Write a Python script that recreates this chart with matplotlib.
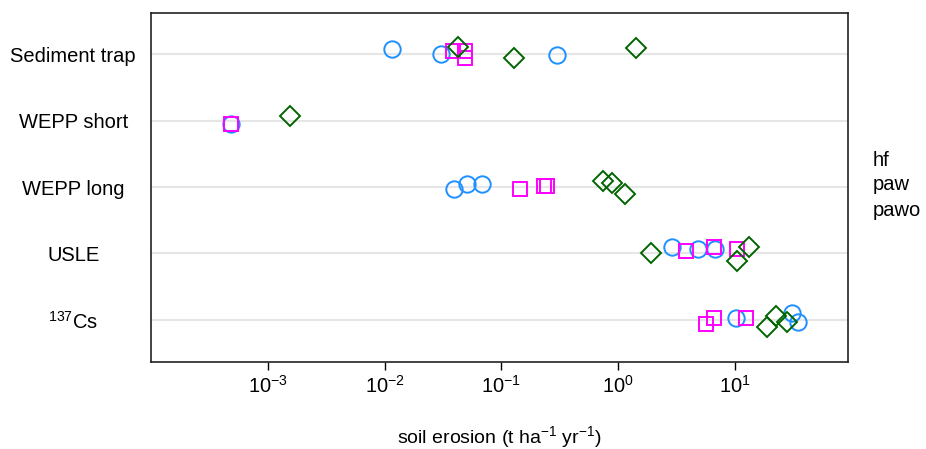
import matplotlib
matplotlib.use("Agg")
import matplotlib.pyplot as plt
import numpy as np

plt.rcParams['font.family'] = ['Liberation Sans', 'DejaVu Sans']
plt.rcParams['mathtext.fontset'] = 'custom'
plt.rcParams['mathtext.rm'] = 'Liberation Sans'
plt.rcParams['mathtext.it'] = 'Liberation Sans:italic'
plt.rcParams['mathtext.bf'] = 'Liberation Sans:bold'

# methods, top to bottom
categories = ["Sediment trap", "WEPP short", "WEPP long", "USLE", "$^{137}$Cs"]

# hf (circles)
hf_cat = [0, 0, 0, 1, 2, 2, 2, 3, 3, 3, 4, 4, 4]
hf_val = [0.0116, 0.0303, 0.299, 4.8e-4, 0.0393, 0.0507, 0.0682, 2.90, 4.84, 6.77, 10.2, 30.9, 34.8]
hf_jit = [0.075, 0.0, -0.015, -0.05, -0.03, 0.045, 0.045, 0.1, 0.07, 0.07, 0.03, 0.1, -0.03]

# paw (squares)
paw_cat = [0, 0, 0, 1, 2, 2, 2, 3, 3, 3, 4, 4, 4]
paw_val = [0.0385, 0.0488, 0.0488, 4.8e-4, 0.144, 0.232, 0.246, 3.82, 6.64, 10.4, 5.66, 6.64, 12.5]
paw_jit = [0.045, 0.045, -0.06, -0.05, -0.03, 0.015, 0.015, 0.04, 0.1, 0.07, -0.06, 0.03, 0.03]

# pawo (diamonds)
pawo_cat = [0, 0, 0, 1, 2, 2, 2, 3, 3, 3, 4, 4, 4]
pawo_val = [0.0425, 0.128, 1.42, 1.55e-3, 0.743, 0.887, 1.146, 1.91, 10.4, 13.2, 18.9, 22.6, 28.0]
pawo_jit = [0.105, -0.06, 0.09, 0.07, 0.09, 0.06, -0.1, 0.0, -0.11, 0.1, -0.1, 0.06, -0.03]

legend_labels = ["hf", "paw", "pawo"]
xticks = [1e-3, 1e-2, 1e-1, 1e0, 1e1]

fig = plt.figure(figsize=(9.26, 4.49), dpi=100)
ax = fig.add_axes([0.163, 0.1938, 0.7528, 0.7772])

n = len(categories)
ypos = n - np.arange(n)  # Sediment trap on top

for y in ypos:
    ax.axhline(y, color='#e6e6e6', lw=1.5, zorder=0)

def ys(cats, jit):
    return ypos[np.array(cats)] + np.array(jit)

ax.plot(hf_val, ys(hf_cat, hf_jit), 'o', ls='none', mfc='none', mec='#1e90ff',
        ms=11.8, mew=1.4)
ax.plot(paw_val, ys(paw_cat, paw_jit), 's', ls='none', mfc='none', mec='#ff00ff',
        ms=9.8, mew=1.4)
ax.plot(pawo_val, ys(pawo_cat, pawo_jit), 'D', ls='none', mfc='none', mec='#006400',
        ms=9.8, mew=1.4)

ax.set_xscale('log')
ax.set_xlim(10 ** -4.0, 10 ** 1.968)
ax.set_ylim(0.368, 5.617)
ax.set_xticks(xticks)
ax.xaxis.set_minor_locator(matplotlib.ticker.NullLocator())
ax.tick_params(axis='x', length=6, width=1, pad=3, labelsize=14.5, direction='out')

ax.set_yticks(ypos)
ax.set_yticklabels(categories, fontsize=14.5)
ax.tick_params(axis='y', length=0, pad=56)
for lab in ax.get_yticklabels():
    lab.set_horizontalalignment('center')

for sp in ax.spines.values():
    sp.set_linewidth(1.2)
    sp.set_color('#222222')

ax.set_xlabel("soil erosion (t ha$^{-1}$ yr$^{-1}$)", fontsize=14, labelpad=20)

for i, lab in enumerate(legend_labels):
    fig.text(873 / 926, 1 - (160 + 25 * i) / 449, lab, fontsize=14.5,
             ha='left', va='center')

fig.savefig("out.png", dpi=100)
